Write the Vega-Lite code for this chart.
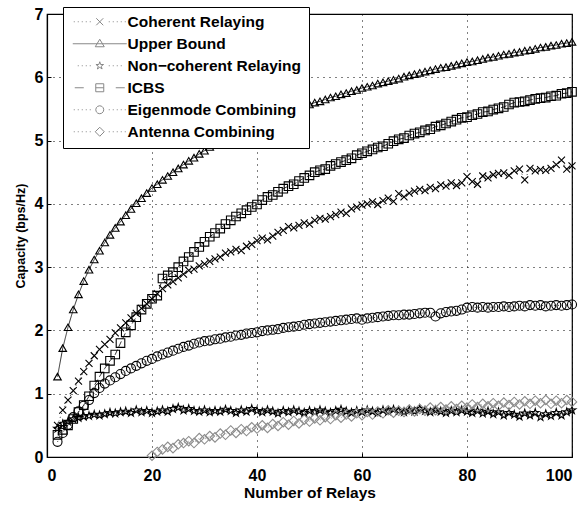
{
  "$schema": "https://vega.github.io/schema/vega-lite/v6.json",
  "autosize": {"type": "none"},
  "padding": {"left": 47, "top": 14, "right": 14, "bottom": 49},
  "width": 525,
  "height": 443,
  "background": "white",
  "config": {
    "view": {"stroke": "black", "strokeWidth": 1.2},
    "font": "Liberation Sans",
    "axis": {
      "domainColor": "black", "domainWidth": 1.2,
      "grid": true, "gridColor": "black", "gridDash": [1, 5], "gridWidth": 1, "gridOpacity": 1,
      "ticks": true, "tickColor": "black", "tickSize": -4, "tickWidth": 1,
      "labelFont": "Liberation Sans", "labelFontSize": 16, "labelFontWeight": "bold", "labelColor": "black",
      "titleFont": "Liberation Sans", "titleFontWeight": "bold", "titleColor": "black"
    }
  },
  "data": {"values": [
    {"n":2,"c":0.50,"u":1.27,"nc":0.45,"i":0.35,"e":0.24},
    {"n":3,"c":0.74,"u":1.72,"nc":0.52,"i":0.43,"e":0.38},
    {"n":4,"c":0.90,"u":2.05,"nc":0.56,"i":0.50,"e":0.51},
    {"n":5,"c":1.05,"u":2.33,"nc":0.60,"i":0.60,"e":0.63},
    {"n":6,"c":1.20,"u":2.57,"nc":0.62,"i":0.71,"e":0.72},
    {"n":7,"c":1.35,"u":2.78,"nc":0.64,"i":0.82,"e":0.81},
    {"n":8,"c":1.48,"u":2.96,"nc":0.65,"i":0.96,"e":0.90},
    {"n":9,"c":1.60,"u":3.12,"nc":0.67,"i":1.13,"e":1.01},
    {"n":10,"c":1.70,"u":3.26,"nc":0.66,"i":1.27,"e":1.09},
    {"n":11,"c":1.78,"u":3.39,"nc":0.68,"i":1.40,"e":1.16},
    {"n":12,"c":1.86,"u":3.51,"nc":0.70,"i":1.52,"e":1.21},
    {"n":13,"c":1.96,"u":3.62,"nc":0.69,"i":1.62,"e":1.26},
    {"n":14,"c":2.04,"u":3.72,"nc":0.71,"i":1.80,"e":1.31},
    {"n":15,"c":2.12,"u":3.82,"nc":0.72,"i":1.97,"e":1.36},
    {"n":16,"c":2.20,"u":3.92,"nc":0.70,"i":2.08,"e":1.40},
    {"n":17,"c":2.27,"u":4.01,"nc":0.74,"i":2.21,"e":1.44},
    {"n":18,"c":2.35,"u":4.09,"nc":0.71,"i":2.33,"e":1.48},
    {"n":19,"c":2.42,"u":4.17,"nc":0.73,"i":2.42,"e":1.52},
    {"n":20,"c":2.50,"u":4.25,"nc":0.70,"i":2.50,"e":1.55,"a":0.02},
    {"n":21,"c":2.58,"u":4.31,"nc":0.72,"i":2.55,"e":1.59,"a":0.08},
    {"n":22,"c":2.66,"u":4.38,"nc":0.74,"i":2.82,"e":1.62,"a":0.12},
    {"n":23,"c":2.72,"u":4.44,"nc":0.72,"i":2.87,"e":1.65,"a":0.16},
    {"n":24,"c":2.77,"u":4.50,"nc":0.76,"i":2.92,"e":1.68,"a":0.14},
    {"n":25,"c":2.83,"u":4.56,"nc":0.78,"i":3.00,"e":1.71,"a":0.20},
    {"n":26,"c":2.89,"u":4.62,"nc":0.74,"i":3.09,"e":1.74,"a":0.22},
    {"n":27,"c":2.95,"u":4.68,"nc":0.76,"i":3.16,"e":1.76,"a":0.25},
    {"n":28,"c":2.97,"u":4.73,"nc":0.73,"i":3.24,"e":1.79,"a":0.22},
    {"n":29,"c":3.02,"u":4.79,"nc":0.72,"i":3.32,"e":1.81,"a":0.30},
    {"n":30,"c":3.05,"u":4.84,"nc":0.74,"i":3.40,"e":1.83,"a":0.28},
    {"n":31,"c":3.09,"u":4.90,"nc":0.71,"i":3.48,"e":1.84,"a":0.33},
    {"n":32,"c":3.13,"u":4.94,"nc":0.73,"i":3.54,"e":1.86,"a":0.31},
    {"n":33,"c":3.16,"u":4.99,"nc":0.72,"i":3.61,"e":1.87,"a":0.37},
    {"n":34,"c":3.22,"u":5.03,"nc":0.75,"i":3.68,"e":1.89,"a":0.35},
    {"n":35,"c":3.24,"u":5.07,"nc":0.73,"i":3.74,"e":1.90,"a":0.42},
    {"n":36,"c":3.28,"u":5.11,"nc":0.70,"i":3.80,"e":1.92,"a":0.38},
    {"n":37,"c":3.26,"u":5.15,"nc":0.74,"i":3.85,"e":1.93,"a":0.44},
    {"n":38,"c":3.33,"u":5.18,"nc":0.72,"i":3.90,"e":1.95,"a":0.41},
    {"n":39,"c":3.36,"u":5.22,"nc":0.76,"i":3.95,"e":1.96,"a":0.47},
    {"n":40,"c":3.42,"u":5.26,"nc":0.73,"i":3.99,"e":1.97,"a":0.45},
    {"n":41,"c":3.46,"u":5.29,"nc":0.71,"i":4.06,"e":1.99,"a":0.50},
    {"n":42,"c":3.43,"u":5.32,"nc":0.74,"i":4.11,"e":2.00,"a":0.46},
    {"n":43,"c":3.49,"u":5.36,"nc":0.72,"i":4.14,"e":2.01,"a":0.52},
    {"n":44,"c":3.55,"u":5.39,"nc":0.69,"i":4.19,"e":2.02,"a":0.49},
    {"n":45,"c":3.58,"u":5.42,"nc":0.73,"i":4.24,"e":2.04,"a":0.55},
    {"n":46,"c":3.64,"u":5.45,"nc":0.71,"i":4.28,"e":2.05,"a":0.51},
    {"n":47,"c":3.62,"u":5.48,"nc":0.74,"i":4.31,"e":2.06,"a":0.57},
    {"n":48,"c":3.66,"u":5.51,"nc":0.72,"i":4.36,"e":2.07,"a":0.53},
    {"n":49,"c":3.70,"u":5.54,"nc":0.70,"i":4.41,"e":2.09,"a":0.59},
    {"n":50,"c":3.68,"u":5.57,"nc":0.73,"i":4.45,"e":2.10,"a":0.56},
    {"n":51,"c":3.74,"u":5.60,"nc":0.71,"i":4.50,"e":2.11,"a":0.61},
    {"n":52,"c":3.77,"u":5.62,"nc":0.74,"i":4.53,"e":2.12,"a":0.58},
    {"n":53,"c":3.76,"u":5.65,"nc":0.72,"i":4.55,"e":2.13,"a":0.63},
    {"n":54,"c":3.80,"u":5.68,"nc":0.70,"i":4.60,"e":2.14,"a":0.60},
    {"n":55,"c":3.83,"u":5.70,"nc":0.73,"i":4.63,"e":2.15,"a":0.66},
    {"n":56,"c":3.87,"u":5.73,"nc":0.75,"i":4.66,"e":2.16,"a":0.62},
    {"n":57,"c":3.85,"u":5.75,"nc":0.72,"i":4.69,"e":2.17,"a":0.67},
    {"n":58,"c":3.92,"u":5.78,"nc":0.70,"i":4.72,"e":2.18,"a":0.64},
    {"n":59,"c":3.95,"u":5.80,"nc":0.73,"i":4.77,"e":2.19,"a":0.69},
    {"n":60,"c":3.98,"u":5.83,"nc":0.71,"i":4.80,"e":2.17,"a":0.66},
    {"n":61,"c":4.00,"u":5.85,"nc":0.74,"i":4.83,"e":2.19,"a":0.71},
    {"n":62,"c":4.03,"u":5.87,"nc":0.72,"i":4.86,"e":2.20,"a":0.67},
    {"n":63,"c":3.99,"u":5.90,"nc":0.70,"i":4.89,"e":2.21,"a":0.72},
    {"n":64,"c":4.05,"u":5.92,"nc":0.74,"i":4.91,"e":2.22,"a":0.69},
    {"n":65,"c":4.09,"u":5.94,"nc":0.72,"i":4.95,"e":2.23,"a":0.74},
    {"n":66,"c":4.04,"u":5.96,"nc":0.75,"i":4.99,"e":2.24,"a":0.70},
    {"n":67,"c":4.16,"u":5.98,"nc":0.73,"i":5.02,"e":2.24,"a":0.73},
    {"n":68,"c":4.11,"u":6.01,"nc":0.71,"i":5.04,"e":2.25,"a":0.71},
    {"n":69,"c":4.17,"u":6.03,"nc":0.74,"i":5.08,"e":2.25,"a":0.75},
    {"n":70,"c":4.20,"u":6.05,"nc":0.72,"i":5.11,"e":2.26,"a":0.72},
    {"n":71,"c":4.23,"u":6.07,"nc":0.76,"i":5.13,"e":2.27,"a":0.76},
    {"n":72,"c":4.21,"u":6.09,"nc":0.73,"i":5.16,"e":2.28,"a":0.73},
    {"n":73,"c":4.26,"u":6.11,"nc":0.71,"i":5.18,"e":2.28,"a":0.78},
    {"n":74,"c":4.24,"u":6.13,"nc":0.74,"i":5.22,"e":2.22,"a":0.74},
    {"n":75,"c":4.30,"u":6.15,"nc":0.72,"i":5.24,"e":2.27,"a":0.79},
    {"n":76,"c":4.28,"u":6.16,"nc":0.70,"i":5.27,"e":2.29,"a":0.75},
    {"n":77,"c":4.33,"u":6.18,"nc":0.73,"i":5.30,"e":2.30,"a":0.80},
    {"n":78,"c":4.29,"u":6.20,"nc":0.71,"i":5.33,"e":2.31,"a":0.76},
    {"n":79,"c":4.33,"u":6.22,"nc":0.74,"i":5.36,"e":2.33,"a":0.81},
    {"n":80,"c":4.43,"u":6.24,"nc":0.72,"i":5.37,"e":2.36,"a":0.78},
    {"n":81,"c":4.35,"u":6.25,"nc":0.70,"i":5.40,"e":2.37,"a":0.83},
    {"n":82,"c":4.31,"u":6.27,"nc":0.73,"i":5.42,"e":2.36,"a":0.79},
    {"n":83,"c":4.44,"u":6.29,"nc":0.69,"i":5.45,"e":2.37,"a":0.84},
    {"n":84,"c":4.41,"u":6.31,"nc":0.72,"i":5.46,"e":2.36,"a":0.80},
    {"n":85,"c":4.46,"u":6.32,"nc":0.68,"i":5.49,"e":2.37,"a":0.85},
    {"n":86,"c":4.48,"u":6.34,"nc":0.71,"i":5.51,"e":2.37,"a":0.81},
    {"n":87,"c":4.49,"u":6.36,"nc":0.66,"i":5.53,"e":2.38,"a":0.86},
    {"n":88,"c":4.45,"u":6.37,"nc":0.70,"i":5.57,"e":2.37,"a":0.82},
    {"n":89,"c":4.52,"u":6.39,"nc":0.67,"i":5.60,"e":2.38,"a":0.87},
    {"n":90,"c":4.55,"u":6.40,"nc":0.64,"i":5.61,"e":2.39,"a":0.83},
    {"n":91,"c":4.38,"u":6.42,"nc":0.69,"i":5.62,"e":2.38,"a":0.88},
    {"n":92,"c":4.56,"u":6.43,"nc":0.66,"i":5.64,"e":2.40,"a":0.84},
    {"n":93,"c":4.52,"u":6.45,"nc":0.70,"i":5.66,"e":2.39,"a":0.89},
    {"n":94,"c":4.54,"u":6.47,"nc":0.63,"i":5.67,"e":2.40,"a":0.85},
    {"n":95,"c":4.53,"u":6.48,"nc":0.68,"i":5.68,"e":2.38,"a":0.90},
    {"n":96,"c":4.56,"u":6.50,"nc":0.65,"i":5.70,"e":2.39,"a":0.84},
    {"n":97,"c":4.62,"u":6.51,"nc":0.70,"i":5.71,"e":2.40,"a":0.89},
    {"n":98,"c":4.69,"u":6.53,"nc":0.66,"i":5.74,"e":2.39,"a":0.85},
    {"n":99,"c":4.55,"u":6.54,"nc":0.71,"i":5.75,"e":2.40,"a":0.90},
    {"n":100,"c":4.60,"u":6.56,"nc":0.74,"i":5.77,"e":2.41,"a":0.87}
  ]},
  "transform": [
    {"fold": ["c", "u", "nc", "i", "e", "a"], "as": ["s", "v"]},
    {"filter": "isValid(datum.v)"}
  ],
  "encoding": {
    "x": {"field": "n", "type": "quantitative",
      "scale": {"domain": [0, 100], "nice": false},
      "axis": {"values": [0, 20, 40, 60, 80, 100], "title": "Number of Relays", "titleFontSize": 15.5, "titlePadding": 2, "labelPadding": 14}},
    "y": {"field": "v", "type": "quantitative",
      "scale": {"domain": [0, 7], "nice": false},
      "axis": {"values": [0, 1, 2, 3, 4, 5, 6, 7], "title": "Capacity (bps/Hz)", "titleFontSize": 12.5, "titlePadding": 7, "labelPadding": 8}}
  },
  "resolve": {"scale": {"shape": "independent"}, "legend": {"shape": "independent"}},
  "layer": [
    {
      "mark": {"type": "line", "strokeWidth": 0.8},
      "encoding": {
        "detail": {"field": "s"},
        "order": {"field": "n"},
        "color": {"field": "s", "type": "nominal",
          "scale": {"domain": ["c", "u", "nc", "i", "e", "a"], "range": ["black", "black", "black", "black", "black", "#8c8c8c"]},
          "legend": null},
        "strokeDash": {"field": "s", "type": "nominal",
          "scale": {"domain": ["c", "u", "nc", "i", "e", "a"], "range": [[1, 3], [1, 0], [1, 3], [6, 3], [1, 3], [1, 3]]},
          "legend": null}
      }
    },
    {
      "mark": {"type": "point", "filled": false, "strokeWidth": 1.1, "opacity": 1},
      "encoding": {
        "color": {"field": "s", "type": "nominal", "legend": null},
        "size": {"field": "s", "type": "nominal",
          "scale": {"domain": ["c", "u", "nc", "i", "e", "a"], "range": [49, 90, 60, 80, 64, 64]},
          "legend": null},
        "shape": {"field": "s", "type": "nominal",
          "scale": {"domain": ["c", "u", "nc", "i", "e", "a"],
            "range": ["M-1,-1L1,1M1,-1L-1,1", "triangle-up", "M0,-1L0.223,-0.307L0.951,-0.309L0.361,0.117L0.588,0.809L0,0.38L-0.588,0.809L-0.361,0.117L-0.951,-0.309L-0.223,-0.307Z", "square", "circle", "diamond"]},
          "legend": null}
      }
    },
    {
      "transform": [{"filter": "datum.n < 0"}],
      "mark": {"type": "point", "filled": false, "strokeWidth": 1, "opacity": 1},
      "encoding": {
        "stroke": {"field": "s", "type": "nominal",
          "scale": {"domain": ["c", "u", "nc", "i", "e", "a"], "range": ["black", "black", "black", "black", "black", "#8c8c8c"]},
          "legend": {
            "orient": "none", "legendX": 16, "legendY": -7, "title": null,
            "padding": 7, "rowPadding": 5, "strokeColor": "black", "fillColor": "white",
            "labelFont": "Liberation Sans", "labelFontSize": 15.5, "labelFontWeight": "bold", "labelColor": "black", "labelLimit": 300,
            "symbolSize": 100, "labelOffset": 42, "symbolStrokeWidth": 1,
            "labelExpr": "datum.value==='c'?'Coherent Relaying':datum.value==='u'?'Upper Bound':datum.value==='nc'?'Non−coherent Relaying':datum.value==='i'?'ICBS':datum.value==='e'?'Eigenmode Combining':'Antenna Combining'"
          }},
        "shape": {"field": "s", "type": "nominal",
          "scale": {"domain": ["c", "u", "nc", "i", "e", "a"],
            "range": [
              "M-0.8,0L-0.6,0M0,0L0.2,0M0.8,0L1,0M1.6,0L1.8,0M2.4,0L2.6,0M6.2,0L6.4,0M7,0L7.2,0M7.8,0L8,0M8.6,0L8.8,0M9.4,0L9.6,0M3.7,-0.7L5.1,0.7M5.1,-0.7L3.7,0.7",
              "M-1,0L9.8,0M4.4,-0.9L5.3,0.6L3.5,0.6Z",
              "M0,0L0.2,0M0.8,0L1,0M1.6,0L1.8,0M2.4,0L2.6,0M6.2,0L6.4,0M7,0L7.2,0M7.8,0L8,0M8.6,0L8.8,0M4.4,-0.8L4.579,-0.246L5.161,-0.247L4.689,0.094L4.87,0.647L4.4,0.304L3.93,0.647L4.111,0.094L3.639,-0.247L4.221,-0.246Z",
              "M-0.6,0L1.2,0M7.6,0L9.4,0M3.6,-0.8L5.2,-0.8L5.2,0.8L3.6,0.8ZM3.6,0L5.2,0",
              "M-0.8,0L-0.6,0M0,0L0.2,0M0.8,0L1,0M1.6,0L1.8,0M2.4,0L2.6,0M6.2,0L6.4,0M7,0L7.2,0M7.8,0L8,0M8.6,0L8.8,0M9.4,0L9.6,0M5.2,0L5.093,0.4L4.8,0.693L4.4,0.8L4,0.693L3.707,0.4L3.6,0L3.707,-0.4L4,-0.693L4.4,-0.8L4.8,-0.693L5.093,-0.4Z",
              "M-0.8,0L-0.6,0M0,0L0.2,0M0.8,0L1,0M1.6,0L1.8,0M2.4,0L2.6,0M6.2,0L6.4,0M7,0L7.2,0M7.8,0L8,0M8.6,0L8.8,0M9.4,0L9.6,0M4.4,-0.9L5.3,0L4.4,0.9L3.5,0Z"
            ]},
          "legend": {
            "orient": "none", "legendX": 16, "legendY": -7, "title": null,
            "padding": 7, "rowPadding": 5, "strokeColor": "black", "fillColor": "white",
            "labelFont": "Liberation Sans", "labelFontSize": 15.5, "labelFontWeight": "bold", "labelColor": "black", "labelLimit": 300,
            "symbolSize": 100, "labelOffset": 42, "symbolStrokeWidth": 1,
            "labelExpr": "datum.value==='c'?'Coherent Relaying':datum.value==='u'?'Upper Bound':datum.value==='nc'?'Non−coherent Relaying':datum.value==='i'?'ICBS':datum.value==='e'?'Eigenmode Combining':'Antenna Combining'"
          }}
      }
    }
  ]
}
